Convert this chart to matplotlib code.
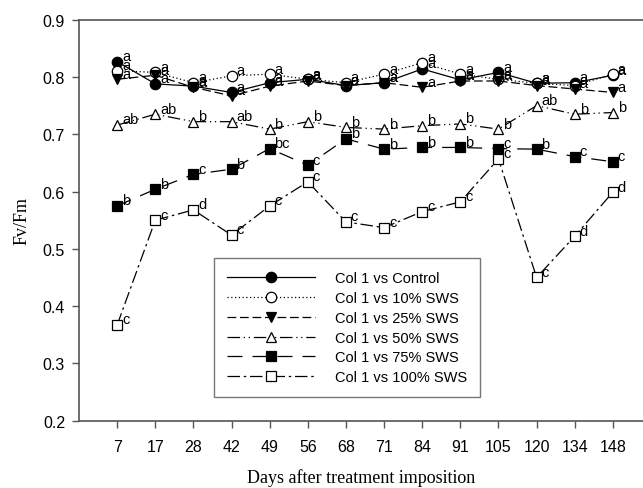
import matplotlib
matplotlib.use("Agg")
import matplotlib.pyplot as plt

days = ["7", "17", "28", "42", "49", "56", "68", "71", "84", "91", "105", "120", "134", "148"]

control = [0.827, 0.788, 0.784, 0.773, 0.790, 0.796, 0.785, 0.790, 0.814, 0.795, 0.808, 0.789, 0.790, 0.803]
sws10 = [0.811, 0.808, 0.790, 0.802, 0.805, 0.796, 0.790, 0.805, 0.825, 0.805, 0.796, 0.789, 0.785, 0.805]
sws25 = [0.796, 0.803, 0.782, 0.767, 0.784, 0.793, 0.785, 0.790, 0.782, 0.793, 0.793, 0.785, 0.779, 0.773]
sws50 = [0.716, 0.735, 0.722, 0.722, 0.709, 0.722, 0.712, 0.709, 0.715, 0.718, 0.709, 0.750, 0.735, 0.738]
sws75 = [0.575, 0.604, 0.630, 0.639, 0.675, 0.646, 0.692, 0.674, 0.677, 0.677, 0.675, 0.674, 0.661, 0.652]
sws100 = [0.367, 0.550, 0.568, 0.524, 0.575, 0.617, 0.547, 0.537, 0.565, 0.582, 0.657, 0.450, 0.522, 0.599]

let_control = ["a"] * 14
let_10 = ["a"] * 14
let_25 = ["a"] * 14
let_50 = ["ab", "ab", "b", "ab", "b", "b", "b", "b", "b", "b", "b", "ab", "b", "b"]
let_75 = ["b", "b", "c", "b", "bc", "c", "b", "b", "b", "b", "c", "b", "c", "c"]
let_100 = ["c", "c", "d", "c", "c", "c", "c", "c", "c", "c", "c", "c", "d", "d"]

labels = ["Col 1 vs Control", "Col 1 vs 10% SWS", "Col 1 vs 25% SWS",
          "Col 1 vs 50% SWS", "Col 1 vs 75% SWS", "Col 1 vs 100% SWS"]

fig = plt.figure(figsize=(6.43, 4.89), dpi=100)
ax = fig.add_axes([79/643, 1 - 421.7/489, 1 - 79/643, (421.7 - 20.7)/489])

x = list(range(1, len(days) + 1))
series = [
    (control, let_control, dict(ls="-", marker="o", mfc="black", ms=7.5)),
    (sws10, let_10, dict(ls=(0, (1, 2)), marker="o", mfc="white", ms=7.5)),
    (sws25, let_25, dict(ls=(0, (7, 3)), marker="v", mfc="black", ms=7.5)),
    (sws50, let_50, dict(ls=(0, (10, 3, 1, 3, 1, 3)), marker="^", mfc="white", ms=7.5)),
    (sws75, let_75, dict(ls=(0, (12, 8)), marker="s", mfc="black", ms=6.5)),
    (sws100, let_100, dict(ls=(0, (10, 3, 2, 3)), marker="s", mfc="white", ms=6.5)),
]
for (vals, lets, st), lab in zip(series, labels):
    ax.plot(x, vals, color="black", lw=0.9, mec="black", mew=0.9, label=lab, **st)
    for xi, yi, t in zip(x, vals, lets):
        ax.annotate(t, (xi, yi), xytext=(3.5, -1), textcoords="offset points",
                    ha="left", va="bottom", fontsize=10.5, family="Liberation Sans")

ax.set_xlim(0, 14.79)
ax.set_ylim(0.2, 0.9)
ax.set_xticks(x)
ax.set_xticklabels(days)
ax.set_yticks([0.2, 0.3, 0.4, 0.5, 0.6, 0.7, 0.8, 0.9])
ax.set_yticklabels(["0.2", "0.3", "0.4", "0.5", "0.6", "0.7", "0.8", "0.9"])
for lab in ax.get_xticklabels() + ax.get_yticklabels():
    lab.set_family("Liberation Sans")
    lab.set_fontsize(11.5)
ax.tick_params(direction="out", length=5, width=1, color="#555555")
ax.tick_params(axis="y", pad=5)
ax.tick_params(axis="x", pad=8)
ax.spines["right"].set_visible(False)
for s in ["left", "bottom", "top"]:
    ax.spines[s].set_color("#555555")
    ax.spines[s].set_linewidth(1.2)

ax.set_ylabel("Fv/Fm", family="Liberation Serif", fontsize=13, labelpad=9)
ax.set_xlabel("Days after treatment imposition", family="Liberation Serif", fontsize=13, labelpad=10)

leg = ax.legend(loc="upper left", bbox_to_anchor=(214/643, 1 - 259/489),
                bbox_transform=fig.transFigure, borderaxespad=0, frameon=True, fancybox=False,
                handlelength=6.0, handletextpad=1.4, labelspacing=0.4,
                borderpad=0.9, prop={"family": "Liberation Sans", "size": 10.5})
leg.get_frame().set_edgecolor("#555555")
leg.get_frame().set_linewidth(1.0)

fig.savefig("out.png", dpi=100)
